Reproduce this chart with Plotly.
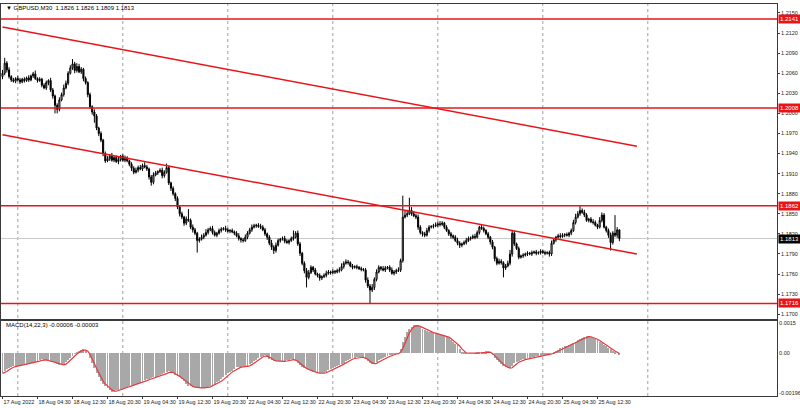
import plotly.graph_objects as go

# ---------------- DATA ----------------
# GBPUSD M30 closes in pips (12060 -> 1.2060), bar 0 = 17 Aug 2022 20:30
close_pips = [
    12060,12075,12065,12055,12050,12048,12052,12050,12047,12051,12049,12053,12050,12056,12059,12052,12049,12051,12042,12038,
    12046,12049,12035,12026,12012,12006,12020,12028,12038,12045,12060,12068,12074,12064,12070,12062,12066,12052,12046,12028,
    12010,12002,11996,11978,11970,11960,11940,11929,11932,11936,11930,11934,11928,11931,11936,11930,11933,11929,11924,11918,
    11912,11915,11919,11917,11922,11920,11917,11905,11897,11908,11911,11913,11915,11907,11912,11919,11896,11888,11880,11873,
    11860,11850,11845,11836,11842,11840,11830,11826,11821,11810,11812,11815,11818,11822,11826,11828,11822,11818,11821,11825,
    11827,11828,11826,11824,11825,11823,11821,11817,11813,11811,11810,11815,11821,11826,11830,11832,11833,11831,11830,11826,
    11820,11815,11806,11800,11795,11803,11810,11812,11813,11809,11807,11810,11813,11815,11821,11805,11791,11776,11765,11755,
    11762,11770,11766,11760,11758,11754,11756,11758,11761,11763,11762,11764,11763,11765,11766,11771,11776,11778,11777,11772,
    11770,11771,11770,11768,11767,11766,11751,11742,11736,11740,11752,11763,11770,11768,11766,11769,11770,11766,11761,11763,
    11765,11766,11780,11845,11848,11850,11855,11850,11847,11845,11830,11822,11820,11818,11825,11830,11831,11832,11833,11835,
    11834,11836,11830,11825,11820,11817,11815,11810,11806,11803,11805,11807,11810,11813,11814,11816,11815,11822,11830,11828,
    11825,11820,11815,11808,11800,11783,11776,11779,11777,11769,11772,11776,11790,11821,11805,11798,11785,11787,11788,11790,
    11791,11790,11792,11793,11791,11792,11794,11792,11791,11792,11790,11806,11811,11815,11817,11816,11818,11819,11818,11821,
    11825,11837,11845,11850,11855,11852,11848,11840,11842,11838,11837,11833,11830,11840,11848,11830,11825,11818,11807,11821,
    11818,11826,11813,
]
first_open_pips = 12055

# upper / lower shadow lengths in pips
up_wick = [
    5,8,3,4,2,3,2,4,3,2,3,2,4,2,3,5,2,3,2,3,
    3,2,4,3,2,3,4,3,5,4,3,4,7,3,5,4,3,2,3,2,
    3,2,4,3,2,3,2,3,4,3,5,2,3,4,2,3,4,3,2,3,
    3,4,3,4,3,5,3,2,3,4,3,2,3,4,3,6,3,2,3,2,
    3,2,3,2,4,15,3,4,3,2,3,4,3,5,3,3,4,3,2,3,
    3,2,4,3,2,3,2,3,4,2,3,4,3,3,4,3,2,3,4,3,
    3,2,3,5,3,4,3,2,3,4,3,2,3,10,3,4,3,2,3,4,
    4,3,2,3,2,3,2,3,4,3,2,3,2,3,4,5,3,4,3,2,
    3,2,3,2,3,2,3,4,3,5,3,4,3,2,4,3,2,3,4,3,
    3,4,3,32,8,6,19,5,4,3,4,3,2,3,4,3,2,3,4,3,
    4,3,2,3,2,3,2,3,4,3,2,3,4,3,2,3,4,3,2,3,
    3,2,3,2,3,2,3,4,3,2,3,4,6,5,3,2,3,2,3,2,
    3,2,3,2,3,2,3,2,3,2,3,4,3,2,3,4,3,2,3,2,
    3,4,5,4,7,3,4,3,2,3,4,3,2,5,4,3,2,3,4,3,
    27,4,0,
]
dn_wick = [
    4,3,4,3,3,2,3,2,3,2,3,2,3,2,3,2,3,2,3,2,
    3,4,3,4,12,6,3,2,3,2,3,2,3,4,3,2,3,4,3,4,
    3,4,10,3,4,3,4,3,2,3,2,3,2,4,3,2,3,2,3,4,
    3,2,3,2,3,2,3,4,5,3,2,3,2,4,3,2,3,4,3,4,
    3,4,3,4,3,2,3,4,3,18,3,2,3,2,3,2,3,2,3,2,
    3,2,3,2,3,2,3,2,3,4,3,2,3,2,3,2,3,2,3,2,
    3,4,3,4,5,3,2,3,2,3,2,3,2,3,2,3,4,3,4,15,
    3,2,3,2,3,4,3,2,3,2,3,2,3,2,3,2,3,2,3,2,
    3,2,3,2,3,2,4,3,20,3,4,3,2,3,2,3,2,3,2,3,
    3,2,3,3,2,3,2,3,2,3,4,3,4,3,2,3,2,3,2,3,
    3,2,3,2,3,4,3,2,3,4,3,2,3,2,3,2,3,2,3,2,
    3,2,3,4,3,4,3,2,3,14,3,2,3,4,3,2,3,2,3,2,
    3,2,3,2,3,2,3,2,3,2,4,3,2,3,2,3,2,3,2,3,
    3,2,3,2,3,2,3,2,3,2,3,2,3,2,3,2,3,4,12,3,
    3,4,4,
]

# MACD(14,22,3) main line in units of 1e-5
macd_1e5 = [
    -99,-90,-80,-72,-68,-65,-63,-61,-60,-58,-55,-52,-50,-47,-45,-42,-38,-34,-30,-32,
    -35,-38,-42,-45,-48,-52,-56,-60,-55,-45,-35,-25,-12,-2,5,12,17,20,12,0,
    -25,-50,-75,-98,-120,-138,-152,-163,-170,-182,-190,-188,-184,-180,-177,-174,-170,-167,-164,-160,
    -157,-153,-150,-146,-140,-135,-130,-127,-124,-120,-117,-114,-110,-105,-100,-95,-90,-93,-100,-107,
    -114,-120,-130,-140,-150,-160,-164,-167,-169,-170,-170,-171,-170,-170,-166,-161,-155,-150,-145,-140,
    -130,-120,-110,-100,-92,-86,-79,-70,-68,-66,-65,-64,-65,-55,-47,-40,-35,-25,-17,-12,
    -10,-18,-27,-35,-37,-38,-39,-40,-40,-38,-35,-32,-31,-30,-38,-47,-60,-68,-75,-80,
    -85,-88,-92,-95,-98,-100,-99,-96,-92,-85,-80,-75,-70,-65,-60,-53,-46,-39,-33,-28,
    -25,-23,-21,-20,-20,-20,-28,-38,-48,-55,-50,-42,-35,-30,-25,-20,-15,-10,-5,-3,
    -1,0,20,55,80,105,120,132,140,138,134,130,122,116,110,106,103,100,98,95,
    92,90,86,81,75,65,55,48,40,22,5,2,1,0,0,0,1,2,3,5,
    7,9,10,0,-10,-25,-35,-45,-55,-62,-70,-73,-75,-65,-50,-42,-38,-34,-30,-28,
    -26,-24,-20,-18,-16,-14,-12,-10,-8,-5,-3,0,5,12,18,25,30,34,37,40,
    45,52,58,64,70,76,81,85,83,80,75,70,65,58,50,43,36,28,20,12,
    5,0,-6,
]

time_labels = ["17 Aug 2022", "18 Aug 04:30", "18 Aug 12:30", "18 Aug 20:30", "19 Aug 04:30",
               "19 Aug 12:30", "19 Aug 20:30", "22 Aug 04:30", "22 Aug 12:30", "22 Aug 20:30",
               "23 Aug 04:30", "23 Aug 12:30", "23 Aug 20:30", "24 Aug 04:30", "24 Aug 12:30",
               "24 Aug 20:30", "25 Aug 04:30", "25 Aug 12:30"]
label_bars = [0, 16, 32, 48, 64, 80, 96, 112, 128, 144, 160, 176, 192, 208, 224, 240, 256, 272]
day_start_bars = [7, 55, 103, 151, 199, 247, 295]

price_ticks = [1.1700, 1.1730, 1.1760, 1.1790, 1.1820, 1.1850, 1.1880, 1.1910, 1.1940,
               1.1970, 1.2000, 1.2030, 1.2060, 1.2090, 1.2120, 1.2150]
levels = [1.2141, 1.2008, 1.1862, 1.1716]
bid_price = 1.1813
trend_upper = [(0, 1.2129), (290, 1.1951)]
trend_lower = [(0, 1.1968), (290, 1.1790)]
macd_ticks = [0.0015, 0.0, -0.00196]
macd_ticktext = ["0.0015", "0.00", "-0.00196"]
title_text = "\u25bc GBPUSD,M30  1.1826 1.1826 1.1809 1.1813"
macd_text = "MACD(14,22,3) -0.00006 -0.00003"

# ---------------- BUILD ----------------
n = len(close_pips)
idx = list(range(n))
close = [c / 10000 for c in close_pips]
opens = [first_open_pips / 10000] + close[:-1]
high = [max(o, c) + u / 10000 for o, c, u in zip(opens, close, up_wick)]
low = [min(o, c) - d / 10000 for o, c, d in zip(opens, close, dn_wick)]
macd = [m / 100000 for m in macd_1e5]
signal = []
for i in range(len(macd)):
    w = macd[max(0, i - 2): i + 1]
    signal.append(sum(w) / len(w))

BAR_PX = 2.1875
X0_PX = 1.5
L, R = 1, 23
plot_w = 800 - L - R
x_min = (0 - X0_PX) / BAR_PX
x_max = (plot_w - X0_PX) / BAR_PX

FONT = "Liberation Sans"
RED = "#e8141a"

fig = go.Figure()
fig.add_trace(go.Candlestick(
    x=idx, open=opens, high=high, low=low, close=close,
    increasing=dict(line=dict(color="black", width=1), fillcolor="white"),
    decreasing=dict(line=dict(color="black", width=1), fillcolor="black"),
    whiskerwidth=0, showlegend=False, hoverinfo="skip", xaxis="x", yaxis="y"))
fig.add_trace(go.Bar(x=idx, y=macd, width=0.45, marker=dict(color="#a8a8a8", line=dict(width=0)),
                     showlegend=False, hoverinfo="skip", xaxis="x2", yaxis="y2"))
fig.add_trace(go.Scatter(x=idx, y=signal, mode="lines", line=dict(color="#e8383a", width=1.2),
                         showlegend=False, hoverinfo="skip", xaxis="x2", yaxis="y2"))

shapes = []
for d in day_start_bars:
    shapes.append(dict(type="line", xref="x", yref="paper", x0=d, x1=d, y0=0, y1=1,
                       line=dict(color="#a0a0a0", width=1, dash="dot"), layer="below"))
shapes.append(dict(type="line", xref="paper", yref="y", x0=0, x1=1, y0=bid_price, y1=bid_price,
                   line=dict(color="#c8c8c8", width=1), layer="below"))
for lv in levels:
    shapes.append(dict(type="line", xref="paper", yref="y", x0=0, x1=1, y0=lv, y1=lv,
                       line=dict(color=RED, width=1.5)))
for tl in (trend_upper, trend_lower):
    shapes.append(dict(type="line", xref="x", yref="y", x0=tl[0][0], y0=tl[0][1], x1=tl[1][0], y1=tl[1][1],
                       line=dict(color=RED, width=1.5)))

annotations = []
for lv in levels:
    annotations.append(dict(xref="paper", yref="y", x=1, y=lv, xanchor="left", yanchor="middle",
                            xshift=1, text=f"{lv:.4f}", showarrow=False,
                            font=dict(family=FONT, size=6, color="white"),
                            bgcolor=RED, borderpad=1))
annotations.append(dict(xref="paper", yref="y", x=1, y=bid_price, xanchor="left", yanchor="middle",
                        xshift=1, text=f"{bid_price:.4f}", showarrow=False,
                        font=dict(family=FONT, size=6, color="white"), bgcolor="black", borderpad=1))
annotations.append(dict(xref="paper", yref="paper", x=0, y=1, xanchor="left", yanchor="middle",
                        xshift=3, yshift=-4, text=title_text, showarrow=False,
                        font=dict(family=FONT, size=6, color="black")))
annotations.append(dict(xref="paper", yref="y2 domain", x=0, y=1, xanchor="left", yanchor="middle",
                        xshift=3, yshift=-4, text=macd_text, showarrow=False,
                        font=dict(family=FONT, size=6, color="black")))

main_bottom = (396 - 319) / 393
macd_top = (396 - 321) / 393

axis_common = dict(showgrid=False, zeroline=False, showline=True, mirror=True,
                   linecolor="#3a3a3a", linewidth=1, automargin=False)

fig.update_layout(
    width=800, height=408, margin=dict(l=L, r=R, t=4, b=12),
    paper_bgcolor="white", plot_bgcolor="white", showlegend=False,
    bargap=0, shapes=shapes, annotations=annotations,
    xaxis=dict(domain=[0, 1], range=[x_min, x_max], anchor="y", showticklabels=False,
               rangeslider=dict(visible=False), ticks="", **axis_common),
    xaxis2=dict(domain=[0, 1], range=[x_min, x_max], anchor="y2", matches="x",
                tickvals=label_bars, ticktext=time_labels, ticks="outside", ticklen=2,
                tickangle=0, tickcolor="#3a3a3a", ticklabelposition="outside right",
                tickfont=dict(family=FONT, size=5.5, color="#222"), **axis_common),
    yaxis=dict(domain=[main_bottom, 1], range=[1.16925, 1.21634], side="right", anchor="x",
               tickvals=price_ticks, ticktext=[f"{p:.4f}" for p in price_ticks],
               ticks="outside", ticklen=2, tickcolor="#3a3a3a",
               tickfont=dict(family=FONT, size=5.5, color="#222"), **axis_common),
    yaxis2=dict(domain=[0, macd_top], range=[-0.00211, 0.001597], side="right", anchor="x2",
                tickvals=macd_ticks, ticktext=macd_ticktext,
                ticks="", tickfont=dict(family=FONT, size=5.5, color="#222"), **axis_common),
)

fig.write_html("out.html", config={"displayModeBar": False},
               post_script="document.body.style.margin='0';document.body.style.overflow='hidden';")
